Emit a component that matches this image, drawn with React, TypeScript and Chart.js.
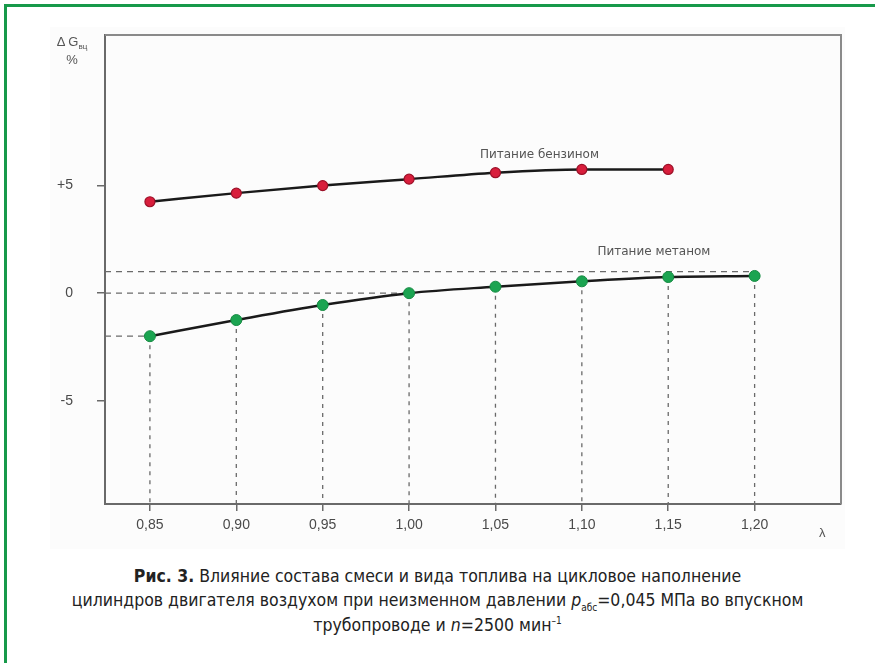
import React, { useEffect, useRef } from "react";
import { Chart, registerables } from "chart.js";

Chart.register(...registerables);

// Air-fuel equivalence ratio λ
const lambdaValues = [0.85, 0.9, 0.95, 1.0, 1.05, 1.1, 1.15, 1.2];
const xTickLabels = ["0,85", "0,90", "0,95", "1,00", "1,05", "1,10", "1,15", "1,20"];

// ΔG, % — gasoline supply
const gasolineLambda = [0.85, 0.9, 0.95, 1.0, 1.05, 1.1, 1.15];
const gasolineDelta = [4.25, 4.65, 5.0, 5.3, 5.6, 5.75, 5.75];

// ΔG, % — methane supply
const methaneLambda = [0.85, 0.9, 0.95, 1.0, 1.05, 1.1, 1.15, 1.2];
const methaneDelta = [-2.0, -1.25, -0.55, 0.0, 0.3, 0.55, 0.75, 0.8];

const yTickValues = [-5, 0, 5];
const yTickLabels = ["-5", "0", "+5"];

// horizontal reference lines: level and the λ where each stops
const guideLevels = [1.0, 0.0, -2.0];
const guideEnds = [1.2, 1.0, 0.85];

// curve captions: text and left anchor in data units
const seriesCaptions = ["Питание бензином", "Питание метаном"];
const captionLambda = [1.041, 1.109];
const captionDelta = [6.43, 1.94];

const X_MIN = 0.824;
const X_MAX = 1.25;
const Y_MIN = -9.8;
const Y_MAX = 12;

const FONT = "'Liberation Sans', Arial, sans-serif";

const framePlugin = {
  id: "frame",
  beforeDatasetsDraw(chart: any) {
    const { ctx, chartArea } = chart;
    ctx.save();
    ctx.strokeStyle = "#8a8a8a";
    ctx.lineWidth = 2;
    ctx.beginPath();
    ctx.moveTo(chartArea.left, chartArea.top);
    ctx.lineTo(chartArea.right, chartArea.top);
    ctx.lineTo(chartArea.right, chartArea.bottom);
    ctx.stroke();
    ctx.restore();
  },
};

const captionPlugin = {
  id: "seriesCaptions",
  afterDatasetsDraw(chart: any) {
    const { ctx, scales } = chart;
    ctx.save();
    ctx.font = "12px 'DejaVu Sans', sans-serif";
    ctx.fillStyle = "#555";
    ctx.textAlign = "left";
    ctx.textBaseline = "middle";
    seriesCaptions.forEach((t, i) => {
      ctx.fillText(t, scales.x.getPixelForValue(captionLambda[i]), scales.y.getPixelForValue(captionDelta[i]));
    });
    ctx.restore();
  },
};

function ChartCanvas() {
  const ref = useRef<HTMLCanvasElement>(null);
  useEffect(() => {
    if (!ref.current) return;

    const guideStyle = {
      type: "line" as const,
      borderColor: "#6a6a6a",
      borderWidth: 1.3,
      borderDash: [6, 5],
      pointRadius: 0,
      fill: false,
      order: 10,
    };

    const horizontalGuides = guideLevels.map((lv, i) => ({
      ...guideStyle,
      data: [
        { x: X_MIN, y: lv },
        { x: guideEnds[i], y: lv },
      ],
    }));
    const verticalGuides = methaneLambda.map((l, i) => ({
      ...guideStyle,
      borderDash: [4, 5],
      data: [
        { x: l, y: methaneDelta[i] },
        { x: l, y: Y_MIN },
      ],
    }));

    const chart = new Chart(ref.current, {
      type: "line",
      data: {
        datasets: [
          {
            label: "Питание бензином",
            data: gasolineLambda.map((x, i) => ({ x, y: gasolineDelta[i] })),
            borderColor: "#1a1a1a",
            borderWidth: 2.5,
            cubicInterpolationMode: "monotone",
            pointRadius: 5,
            pointBackgroundColor: "#d81e3c",
            pointBorderColor: "#9c1028",
            pointBorderWidth: 1.2,
            order: 0,
          },
          {
            label: "Питание метаном",
            data: methaneLambda.map((x, i) => ({ x, y: methaneDelta[i] })),
            borderColor: "#1a1a1a",
            borderWidth: 2.5,
            cubicInterpolationMode: "monotone",
            pointRadius: 5.5,
            pointBackgroundColor: "#1ba451",
            pointBorderColor: "#158a42",
            pointBorderWidth: 1,
            order: 0,
          },
          ...horizontalGuides,
          ...verticalGuides,
        ] as any,
      },
      options: {
        animation: false,
        responsive: false,
        devicePixelRatio: 1,
        layout: { padding: { top: 35, right: 34, left: 8, bottom: 16 } },
        plugins: { legend: { display: false }, tooltip: { enabled: false } },
        scales: {
          x: {
            type: "linear",
            min: X_MIN,
            max: X_MAX,
            afterBuildTicks: (s: any) => {
              s.ticks = lambdaValues.map((v) => ({ value: v }));
            },
            afterFit: (s: any) => {
              s.height = 40;
            },
            ticks: {
              autoSkip: false,
              maxRotation: 0,
              padding: 6,
              color: "#4a4a4a",
              font: { family: FONT, size: 14 },
              callback: (v: any) => xTickLabels[lambdaValues.findIndex((l) => Math.abs(l - v) < 1e-6)],
            },
            grid: { drawOnChartArea: false, drawTicks: true, tickLength: 7, color: "#6a6a6a", lineWidth: 1.5 },
            border: { display: true, color: "#6a6a6a", width: 2 },
          },
          y: {
            type: "linear",
            min: Y_MIN,
            max: Y_MAX,
            afterBuildTicks: (s: any) => {
              s.ticks = yTickValues.map((v) => ({ value: v }));
            },
            afterFit: (s: any) => {
              s.width = 97;
            },
            ticks: {
              autoSkip: false,
              padding: 24,
              color: "#4a4a4a",
              font: { family: FONT, size: 14 },
              callback: (v: any) => yTickLabels[yTickValues.indexOf(v)],
            },
            grid: { drawOnChartArea: false, drawTicks: true, tickLength: 8, color: "#6a6a6a", lineWidth: 1.5 },
            border: { display: true, color: "#6a6a6a", width: 2 },
          },
        },
      },
      plugins: [framePlugin, captionPlugin],
    } as any);
    return () => chart.destroy();
  }, []);
  return <canvas ref={ref} width={875} height={560} style={{ position: "absolute", left: 0, top: 0 }} />;
}

const supStyle: React.CSSProperties = { fontSize: 10, verticalAlign: "baseline", position: "relative" };

export default function App() {
  return (
    <div
      style={{
        position: "absolute",
        left: 0,
        top: 0,
        width: 875,
        height: 663,
        background: "#fff",
        overflow: "hidden",
        fontFamily: FONT,
      }}
    >
      <div
        style={{
          position: "absolute",
          left: 4,
          top: 4,
          width: 900,
          height: 700,
          borderLeft: "3px solid #17994a",
          borderTop: "3px solid #17994a",
        }}
      />
      <div style={{ position: "absolute", left: 50, top: 27, width: 795, height: 522, background: "#fcfcfc" }} />
      <ChartCanvas />
      <div style={{ position: "absolute", left: 40, top: 34, width: 64, textAlign: "center", color: "#555", fontSize: 13, lineHeight: "16px" }}>
        <div>
          Δ G<span style={{ ...supStyle, fontSize: 8, top: 3 }}>вц</span>
        </div>
        <div>%</div>
      </div>
      <div style={{ position: "absolute", left: 819, top: 525, color: "#555", fontSize: 13 }}>λ</div>
      <div
        style={{
          position: "absolute",
          left: 0,
          top: 565,
          width: 875,
          textAlign: "center",
          color: "#222",
          fontFamily: "'DejaVu Sans Condensed', 'Liberation Sans', sans-serif",
          fontSize: 17.5,
          lineHeight: "23.5px",
        }}
      >
        <div>
          <b>Рис. 3.</b> Влияние состава смеси и вида топлива на цикловое наполнение
        </div>
        <div>
          цилиндров двигателя воздухом при неизменном давлении <i>p</i>
          <span style={{ ...supStyle, top: 5 }}>абс</span>=0,045 МПа во впускном
        </div>
        <div>
          трубопроводе и <i>n</i>=2500 мин<span style={{ ...supStyle, top: -7 }}>–1</span>
        </div>
      </div>
    </div>
  );
}
